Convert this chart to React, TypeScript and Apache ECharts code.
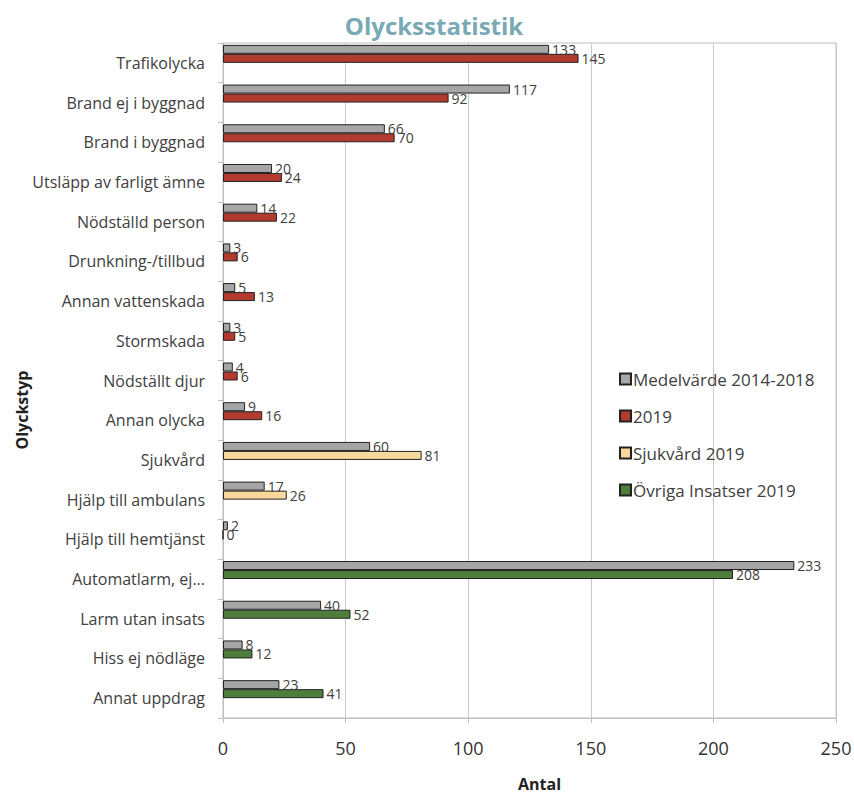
import React, { useEffect, useRef } from "react";
import * as echarts from "echarts";

const categories = [
  "Trafikolycka",
  "Brand ej i byggnad",
  "Brand i byggnad",
  "Utsläpp av farligt ämne",
  "Nödställd person",
  "Drunkning-/tillbud",
  "Annan vattenskada",
  "Stormskada",
  "Nödställt djur",
  "Annan olycka",
  "Sjukvård",
  "Hjälp till ambulans",
  "Hjälp till hemtjänst",
  "Automatlarm, ej...",
  "Larm utan insats",
  "Hiss ej nödläge",
  "Annat uppdrag",
];

const medel = [133, 117, 66, 20, 14, 3, 5, 3, 4, 9, 60, 17, 2, 233, 40, 8, 23];
const y2019 = [145, 92, 70, 24, 22, 6, 13, 5, 6, 16, null, null, null, null, null, null, null];
const sjukvard2019 = [null, null, null, null, null, null, null, null, null, null, 81, 26, 0, null, null, null, null];
const ovriga2019 = [null, null, null, null, null, null, null, null, null, null, null, null, null, 208, 52, 12, 41];

const xTicks = [0, 50, 100, 150, 200, 250];

const FONT = "'Open Sans', 'Noto Sans', sans-serif";

export default function App() {
  const ref = useRef<HTMLDivElement>(null);
  useEffect(() => {
    document.body.style.margin = "0";
    if (!ref.current) return;
    const chart = echarts.init(ref.current, null, { renderer: "svg" });
    const label = {
      show: true,
      position: "right" as const,
      distance: 3,
      fontSize: 14,
      color: "#404040",
      fontFamily: FONT,
    };
    const border = { borderColor: "#222", borderWidth: 1 };
    const mk = (name: string, data: (number | null)[], color: string, stack: string) => ({
      name,
      type: "bar",
      stack,
      data: data.map((v) => (v === null ? "-" : v)),
      barWidth: 9,
      barGap: "0%",
      itemStyle: { color, ...border },
      label,
    });
    const empty = categories.map(() => "-");
    const spacer = (name: string, stack: string) => ({
      name,
      type: "bar",
      stack,
      data: empty,
      barWidth: 9,
      barGap: "0%",
      silent: true,
      label: { show: false },
    });
    chart.setOption({
      animation: false,
      textStyle: { fontFamily: FONT },
      title: {
        text: "Olycksstatistik",
        left: 429,
        textAlign: "center",
        top: 8,
        textStyle: { fontSize: 24, fontWeight: "bold", color: "#78a9b5", fontFamily: FONT },
      },
      legend: {
        orient: "vertical",
        left: 614,
        top: 363,
        itemGap: 15,
        itemWidth: 11,
        itemHeight: 11,
        icon: "rect",
        textStyle: { fontSize: 17, lineHeight: 22, color: "#404040", fontFamily: FONT, padding: [0, 0, 0, -3] },
        data: ["Medelvärde 2014-2018", "2019", "Sjukvård 2019", "Övriga Insatser 2019"],
      },
      grid: {
        left: 223,
        right: 18,
        top: 43,
        bottom: 77,
        outerBoundsMode: "none",
        containLabel: false,
        show: true,
        borderColor: "#bfbfbf",
        borderWidth: 1,
      },
      graphic: [
        {
          type: "text",
          x: 22,
          y: 410,
          rotation: Math.PI / 2,
          style: {
            text: "Olyckstyp",
            fontSize: 16,
            fontWeight: "bold",
            fill: "#222",
            fontFamily: FONT,
            textAlign: "center",
            textVerticalAlign: "middle",
          },
        },
      ],
      xAxis: {
        type: "value",
        min: xTicks[0],
        max: xTicks[xTicks.length - 1],
        interval: 50,
        name: "Antal",
        nameLocation: "middle",
        nameGap: 58,
        nameTextStyle: {
          fontSize: 16,
          lineHeight: 16,
          fontWeight: "bold",
          color: "#222",
          fontFamily: FONT,
          padding: [0, 0, 0, 20],
        },
        axisLine: { show: true, lineStyle: { color: "#bfbfbf" } },
        axisTick: { show: true, length: 5, lineStyle: { color: "#bfbfbf" } },
        axisLabel: { fontSize: 18, color: "#333", margin: 21, fontFamily: FONT },
        splitLine: { show: true, lineStyle: { color: "#c8c8c8" } },
      },
      yAxis: {
        type: "category",
        data: categories,
        inverse: true,
        axisLine: { show: true, lineStyle: { color: "#bfbfbf" } },
        axisTick: { show: true, length: 5, lineStyle: { color: "#bfbfbf" } },
        axisLabel: { fontSize: 16, color: "#404040", margin: 18, fontFamily: FONT },
      },
      series: [
        mk("Medelvärde 2014-2018", medel, "#a6a6a6", "a"),
        mk("2019", y2019, "#b23a2f", "b"),
        mk("Sjukvård 2019", sjukvard2019, "#f8d99b", "b"),
        mk("Övriga Insatser 2019", ovriga2019, "#4f7d3b", "b"),
        spacer("_s1", "c"),
        spacer("_s2", "d"),
      ],
    });
    return () => chart.dispose();
  }, []);
  return <div ref={ref} style={{ width: 854, height: 795 }} />;
}
